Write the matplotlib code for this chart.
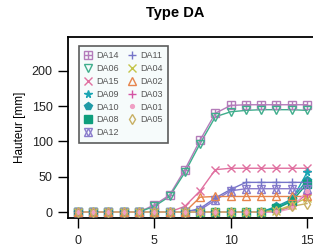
import numpy as np
import matplotlib
matplotlib.use("Agg")
import matplotlib.pyplot as plt
from matplotlib.lines import Line2D
from matplotlib.legend_handler import HandlerTuple

plt.rcParams['font.family'] = ['Liberation Sans', 'DejaVu Sans']

# jours
x = np.arange(16)

names = ["DA14", "DA06", "DA15", "DA09", "DA10", "DA08", "DA12",
         "DA11", "DA04", "DA02", "DA03", "DA01", "DA05"]

da14 = [0, 0, 0, 0, 0, 10, 24, 60, 102, 140, 151, 152, 152, 152, 152, 152]
da06 = [0, 0, 0, 0, 0, 8, 22, 56, 97, 135, 142, 144, 145, 145, 145, 144]
da15 = [0, 0, 0, 0, 0, 0, 0, 8, 30, 60, 62, 62, 62, 62, 62, 62]
da09 = [0, 0, 0, 0, 0, 0, 0, 0, 0, 0, 0, 0, 0, 6, 17, 56]
da10 = [0, 0, 0, 0, 0, 0, 0, 0, 0, 0, 0, 0, 0, 8, 18, 45]
da08 = [0, 0, 0, 0, 0, 0, 0, 0, 0, 0, 0, 0, 0, 5, 15, 40]
da12 = [0, 0, 0, 0, 0, 0, 0, 0, 3, 17, 30, 33, 33, 33, 33, 33]
da11 = [0, 0, 0, 0, 0, 0, 0, 0, 5, 20, 32, 42, 42, 42, 42, 42]
da04 = [0, 0, 0, 0, 0, 0, 0, 0, 0, 0, 0, 0, 0, 2, 10, 20]
da02 = [0, 0, 0, 0, 0, 0, 0, 0, 21, 22, 22, 22, 22, 22, 22, 22]
da03 = [0, 0, 0, 0, 0, 0, 0, 0, 0, 0, 0, 0, 0, 0, 8, 26]
da01 = [0, 0, 0, 0, 0, 0, 0, 0, 0, 0, 0, 0, 0, 0, 5, 30]
da05 = [0, 0, 0, 0, 0, 0, 0, 0, 0, 0, 0, 0, 0, 2, 8, 12]

series = [da14, da06, da15, da09, da10, da08, da12,
          da11, da04, da02, da03, da01, da05]

colors = ["#b47cba", "#3fae8c", "#e070a0", "#1aa6b4", "#1f9aa6", "#0e9e7c",
          "#8a7ccc", "#7474c8", "#c4c448", "#e6844c", "#d454a4", "#f0a0c4",
          "#c8b064"]
# marqueurs ; plusieurs -> superposes
markers = [("s", "+"), ("v",), ("x",), ("*",), ("p",), ("s",), ("^", "v"),
           ("+",), ("x",), ("^",), ("+",), (".",), ("d",)]
filled = [False, False, False, True, True, True, False,
          False, False, False, False, True, False]

fig = plt.figure(figsize=(3.13, 2.5), dpi=100)
ax = fig.add_axes([68/313, 32/250, 1 - 68/313, (218-37)/250])

handles = []
for name, y, c, mk, fl in zip(names, series, colors, markers, filled):
    ax.plot(x, y, color=c, lw=1, zorder=2)
    hs = []
    for m in mk:
        ax.plot(x, y, ls="none", marker=m, ms=5.5,
                mec=c, mfc=c if fl else "none", mew=1, zorder=3)
        hs.append(Line2D([], [], ls="none", marker=m, ms=5.5, mec=c,
                         mfc=c if fl else "none", mew=1))
    handles.append(tuple(hs) if len(hs) > 1 else hs[0])

ax.set_xlim(-0.65, 15.39)
ax.set_ylim(-8.5, 248)
ax.set_xticks([0, 5, 10, 15])
ax.set_yticks([0, 50, 100, 150, 200])
ax.spines["right"].set_visible(False)
for s in ["left", "top", "bottom"]:
    ax.spines[s].set_linewidth(1.3)
ax.tick_params(axis="x", length=7, width=1, pad=5, labelsize=9, labelcolor="#222222")
ax.tick_params(axis="y", length=7, width=1, pad=4, labelsize=9, labelcolor="#222222")
ax.set_ylabel("Hauteur [mm]", fontsize=8.5, labelpad=4)

leg = ax.legend(handles, names, ncol=2, loc="upper left",
                bbox_to_anchor=(0.025, 0.975), fontsize=6.5, frameon=True,
                fancybox=False, handlelength=0.9, handletextpad=0.5,
                columnspacing=0.9, labelspacing=0.42, borderpad=0.6,
                handler_map={tuple: HandlerTuple(ndivide=1)})
leg.get_frame().set_edgecolor("#333333")
leg.get_frame().set_linewidth(1.2)
leg.get_frame().set_facecolor("#f4fafa")
for t in leg.get_texts():
    t.set_color("#555555")

fig.text(0.56, 0.95, "Type DA", ha="center", va="center",
         fontsize=10.5, fontweight="bold")

fig.savefig("out.png", dpi=100)
